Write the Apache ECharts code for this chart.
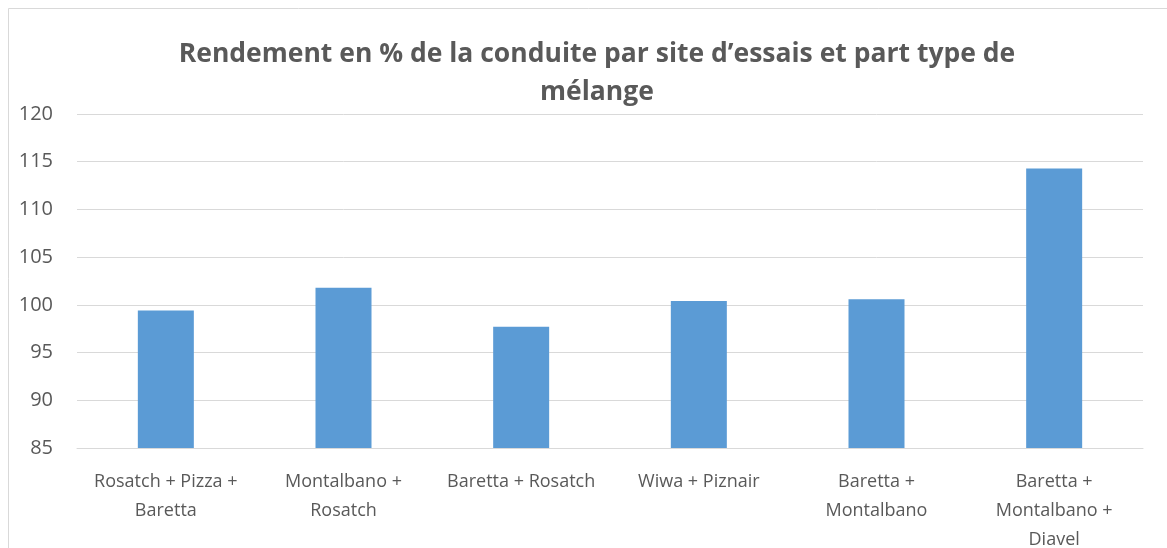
<!DOCTYPE html>
<html>
<head>
<meta charset="utf-8">
<script src="https://cdn.jsdelivr.net/npm/echarts@6/dist/echarts.min.js"></script>
<style>html,body{margin:0;padding:0;background:#fff}#c{width:1167px;height:548px}</style>
</head>
<body>
<div id="c"></div>
<script>
const titleText = "Rendement en % de la conduite par site d\u2019essais et part type de\nm\u00e9lange";
const categories = [
  "Rosatch + Pizza +\nBaretta",
  "Montalbano +\nRosatch",
  "Baretta + Rosatch",
  "Wiwa + Piznair",
  "Baretta +\nMontalbano",
  "Baretta +\nMontalbano +\nDiavel"
];
const values = [99.4, 101.8, 97.7, 100.4, 100.6, 114.3];
const yMin = 85, yMax = 120, yStep = 5;

const chart = echarts.init(document.getElementById('c'), null, {renderer: 'canvas'});
chart.setOption({
  animation: false,
  backgroundColor: '#fff',
  graphic: [{
    type: 'rect',
    shape: {x: 8.5, y: 8.5, width: 1200, height: 600},
    style: {fill: 'none', stroke: '#D9D9D9', lineWidth: 1},
    silent: true
  }],
  title: {
    text: titleText,
    left: 592,
    top: 30,
    textAlign: 'center',
    textStyle: {
      fontFamily: 'Open Sans',
      fontWeight: 'bold',
      fontSize: 26.5,
      color: '#595959',
      lineHeight: 38
    }
  },
  grid: {left: 77, right: 24, top: 114, bottom: 100, containLabel: false, outerBoundsMode: 'none'},
  xAxis: {
    type: 'category',
    data: categories,
    axisTick: {show: false},
    axisLine: {show: true, lineStyle: {color: '#D9D9D9', width: 1}},
    axisLabel: {
      interval: 0,
      margin: 19,
      fontFamily: 'Open Sans',
      fontSize: 18,
      color: '#595959',
      lineHeight: 29
    }
  },
  yAxis: {
    type: 'value',
    min: yMin,
    max: yMax,
    interval: yStep,
    axisLine: {show: false},
    axisTick: {show: false},
    splitLine: {lineStyle: {color: '#D9D9D9', width: 1}},
    axisLabel: {
      margin: 24,
      fontFamily: 'Open Sans',
      fontSize: 20,
      color: '#595959'
    }
  },
  series: [{
    type: 'bar',
    data: values,
    barWidth: 56,
    itemStyle: {color: '#5B9BD5'}
  }]
});
</script>
</body>
</html>
